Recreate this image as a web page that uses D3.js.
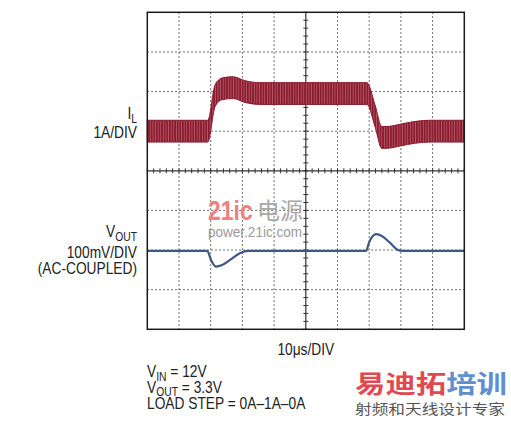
<!DOCTYPE html>
<html>
<head>
<meta charset="utf-8">
<script src="https://cdn.jsdelivr.net/npm/d3@7"></script>
<style>
  body { margin: 0; background: #fff; }
  svg text { font-family: "Liberation Sans Narrow", "Arial Narrow", "Liberation Sans", sans-serif; fill: #222; }
</style>
</head>
<body>
<svg width="511" height="435"></svg>
<script>
// scope settings
var xDivs = 10, yDivs = 8;
var timePerDiv = 10;      // us
var ampPerDiv = 1;        // A
var mvPerDiv = 100;       // mV

// inductor current, band center (A) and ripple p-p
var tI = [0, 19.1, 21.4, 23.6, 27.0, 30.8, 35.5, 69.3, 71.8, 74.0, 76.6, 79.7, 84.4, 89.2, 100];
var iL = [0, 0, 0.9, 1.07, 1.1, 1.0, 0.95, 0.95, 0.4, -0.16, -0.15, -0.1, -0.03, 0, 0];
var rippleA = 0.55;

// output voltage deviation (mV)
var tV = [0, 18.9, 20.1, 21.7, 23.6, 26.1, 29.2, 31.8, 69.0, 70.0, 72.2, 74.1, 76.6, 79.1, 80.3, 100];
var vOut = [-2, -2, -25, -42, -38, -25, -8, -2, -2, 20, 40, 35, 18, 0, -2, -2];

var svg = d3.select("svg"),
  left = 147.3, plotTop = 12.3, w = 317, h = 317;

var x = d3.scaleLinear().domain([0, xDivs * timePerDiv]).range([left, left + w]);
var yDiv = d3.scaleLinear().domain([-yDivs / 2, yDivs / 2]).range([plotTop + h, plotTop]);
// current: 0A sits one division above centre
var yI = function(a) { return yDiv(1 + a / ampPerDiv); };
// voltage: 0mV sits two divisions below centre
var yV = function(mv) { return yDiv(-2 + mv / mvPerDiv); };

// dotted grid
var grid = svg.append("g");
d3.range(1, xDivs).forEach(function(k) {
  if (k === xDivs / 2) return;
  grid.append("line")
    .attr("x1", x(k * timePerDiv)).attr("x2", x(k * timePerDiv))
    .attr("y1", plotTop).attr("y2", plotTop + h)
    .attr("stroke", "#444").attr("stroke-width", 1).attr("stroke-dasharray", "1.5,2.5");
});
d3.range(-yDivs / 2 + 1, yDivs / 2).forEach(function(k) {
  if (k === 0) return;
  grid.append("line")
    .attr("x1", left).attr("x2", left + w)
    .attr("y1", yDiv(k)).attr("y2", yDiv(k))
    .attr("stroke", "#444").attr("stroke-width", 1).attr("stroke-dasharray", "1.5,2.5");
});

// centre crosshair with minor ticks
var cx = x(xDivs * timePerDiv / 2), cy = yDiv(0);
grid.append("line").attr("x1", cx).attr("x2", cx).attr("y1", plotTop).attr("y2", plotTop + h)
  .attr("stroke", "#333").attr("stroke-width", 1.2);
grid.append("line").attr("x1", left).attr("x2", left + w).attr("y1", cy).attr("y2", cy)
  .attr("stroke", "#333").attr("stroke-width", 1.2);
d3.range(0, xDivs * 5 + 1).forEach(function(k) {
  var px = x(k * timePerDiv / 5);
  grid.append("line").attr("x1", px).attr("x2", px).attr("y1", cy - 2.5).attr("y2", cy + 2.5)
    .attr("stroke", "#333").attr("stroke-width", 1);
});
d3.range(0, yDivs * 5 + 1).forEach(function(k) {
  var py = yDiv(-yDivs / 2 + k / 5);
  grid.append("line").attr("x1", cx - 2.5).attr("x2", cx + 2.5).attr("y1", py).attr("y2", py)
    .attr("stroke", "#333").attr("stroke-width", 1);
});

// watermark in plot
var wm = svg.append("g");
wm.append("text").attr("transform", "translate(208,220) scale(0.85,1)")
  .style("font-weight", "bold").style("font-size", "27px").style("fill", "#ef8080").text("21ic");
wm.append("text").attr("x", 257).attr("y", 219)
  .style("font-family", "Noto Sans CJK SC").style("font-size", "23px").style("fill", "#a8a8a8").text("电源");
wm.append("text").attr("x", 208).attr("y", 237)
  .attr("textLength", 94).attr("lengthAdjust", "spacingAndGlyphs")
  .style("font-size", "14px").style("fill", "#9a9a9a")
  .text("power.21ic.com");

// ripple texture for current trace
var defs = svg.append("defs");
var pat = defs.append("pattern").attr("id", "ripple").attr("patternUnits", "userSpaceOnUse")
  .attr("width", 2.6).attr("height", 10);
pat.append("rect").attr("width", 2.6).attr("height", 10).attr("fill", "#8a1a2e");
pat.append("rect").attr("x", 1.7).attr("width", 0.9).attr("height", 10).attr("fill", "#b35a67");

var iData = tI.map(function(t, i) { return [t, iL[i]]; });
var area = d3.area()
  .x(function(d) { return x(d[0]); })
  .y0(function(d) { return yI(d[1] - rippleA / 2); })
  .y1(function(d) { return yI(d[1] + rippleA / 2); })
  .curve(d3.curveMonotoneX);
svg.append("path").datum(iData).attr("d", area)
  .attr("fill", "url(#ripple)").attr("stroke", "#8a1a2e").attr("stroke-width", 1);

var vData = tV.map(function(t, i) { return [t, vOut[i]]; });
var line = d3.line()
  .x(function(d) { return x(d[0]); })
  .y(function(d) { return yV(d[1]); })
  .curve(d3.curveMonotoneX);
svg.append("path").datum(vData).attr("d", line)
  .attr("fill", "none").attr("stroke", "#3e5688").attr("stroke-width", 2.2);

// frame
svg.append("rect").attr("x", left).attr("y", plotTop).attr("width", w).attr("height", h)
  .attr("fill", "none").attr("stroke", "#1a1a1a").attr("stroke-width", 1.5);

// narrow text helper: scale glyphs horizontally like the condensed original
function label(g, px, py, anchor) {
  return g.append("text").attr("transform", "translate(" + px + "," + py + ") scale(0.86,1)")
    .attr("text-anchor", anchor || "start");
}

// channel labels
var lab = svg.append("g").style("font-size", "16px");
var t1 = label(lab, 137, 119, "end");
t1.append("tspan").text("I");
t1.append("tspan").attr("dy", 4).style("font-size", "12px").text("L");
label(lab, 137, 138, "end").text("1A/DIV");
var t2 = label(lab, 137, 237, "end");
t2.append("tspan").text("V");
t2.append("tspan").attr("dy", 4).style("font-size", "12px").text("OUT");
label(lab, 137, 258, "end").text("100mV/DIV");
label(lab, 137, 274, "end").text("(AC-COUPLED)");

label(svg, cx, 355, "middle").style("font-size", "16px").text("10\u03bcs/DIV");

// conditions
var cond = svg.append("g").style("font-size", "16px");
var c1 = label(cond, 147, 377);
c1.append("tspan").text("V");
c1.append("tspan").attr("dy", 4).style("font-size", "12px").text("IN");
c1.append("tspan").attr("dy", -4).text(" = 12V");
var c2 = label(cond, 147, 392.5);
c2.append("tspan").text("V");
c2.append("tspan").attr("dy", 3).style("font-size", "12px").text("OUT");
c2.append("tspan").attr("dy", -3).text(" = 3.3V");
label(cond, 147, 408.5).text("LOAD STEP = 0A\u20131A\u20130A");

// corner watermark
var wm2 = svg.append("text").attr("x", 355).attr("y", 393)
  .attr("textLength", 152).attr("lengthAdjust", "spacingAndGlyphs")
  .style("font-family", "Noto Sans CJK SC").style("font-weight", "bold").style("font-size", "25px");
wm2.append("tspan").style("fill", "#df4a50").text("易迪拓");
wm2.append("tspan").style("fill", "#5f8fcf").text("培训");
svg.append("text").attr("x", 355).attr("y", 414)
  .attr("textLength", 150).attr("lengthAdjust", "spacingAndGlyphs")
  .style("font-family", "Noto Sans CJK SC").style("font-size", "14px").style("fill", "#555")
  .text("射频和天线设计专家");
</script>
</body>
</html>
